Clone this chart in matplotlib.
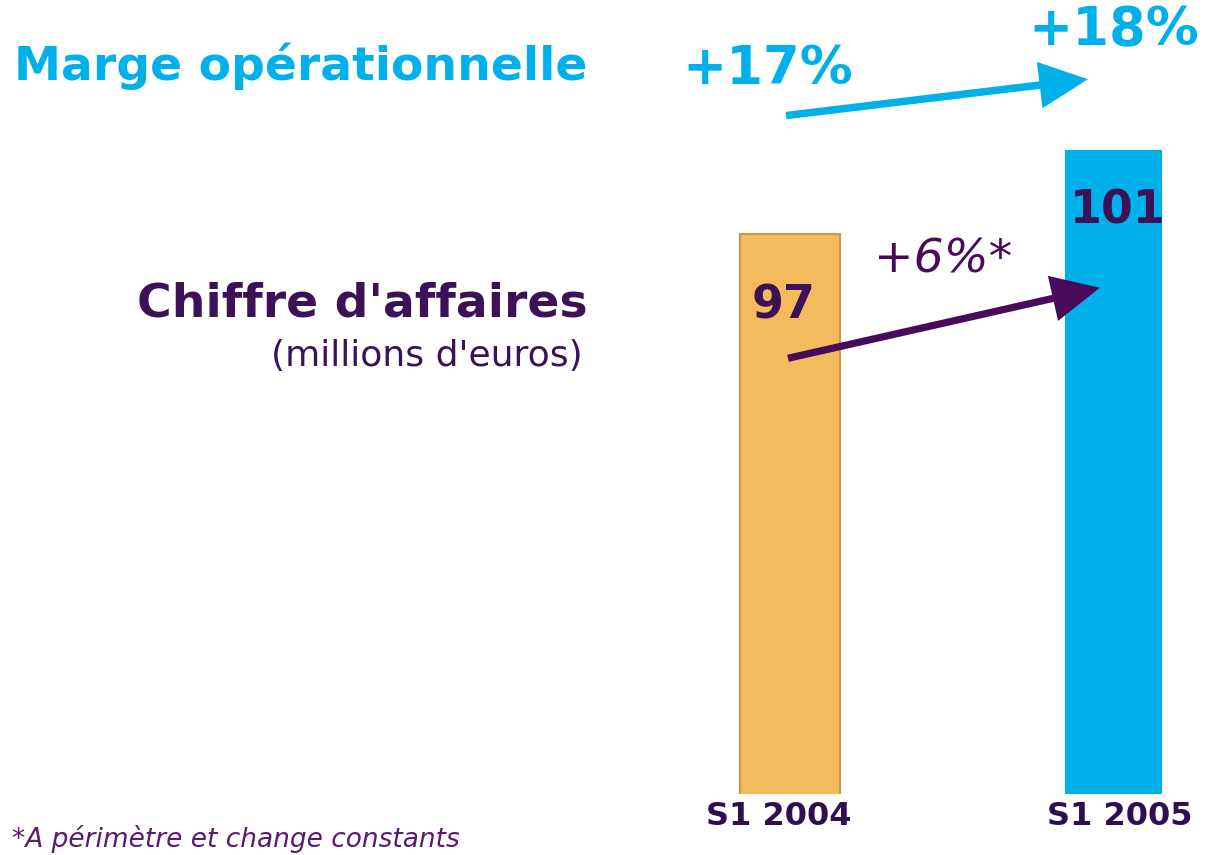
import matplotlib.pyplot as plt

# Données
periods = ["S1 2004", "S1 2005"]
revenue = [97, 101]
margin_labels = ["+17%", "+18%"]
growth_label = "+6%*"
bar_colors = ["#f4bb5c", "#00b0ea"]
bar_edges = ["#c9964a", "#00b0ea"]

cyan = "#00b0ea"
purple = "#3b1157"
arrow_purple = "#4a0a5c"

fig = plt.figure(figsize=(12.15, 8.55), dpi=100)
ax = fig.add_axes([0, 61 / 855, 1, 794 / 855])

x = [0, 1]
ax.bar(x, revenue, width=[0.31, 0.295], color=bar_colors, edgecolor=bar_edges, linewidth=1.5)
ax.set_xlim(-2.442, 1.314)
ax.set_ylim(70, 108.27)
ax.axis("off")

# valeurs sur les barres
ax.text(x[0] - 0.02, 93.5, str(revenue[0]), ha="center", va="center",
        fontsize=33, fontweight="bold", color=purple)
ax.text(x[1] + 0.013, 98.1, str(revenue[1]), ha="center", va="center",
        fontsize=33, fontweight="bold", color=purple)

head = "-|>,head_length=2.6,head_width=1.25"

# flèche chiffre d'affaires
ax.annotate("", xy=(0.958, 94.4), xytext=(-0.006, 91.0),
            arrowprops=dict(arrowstyle=head, color=arrow_purple, lw=5.2,
                            shrinkA=0, shrinkB=0, joinstyle="miter", capstyle="butt"))
ax.text(0.475, 95.75, growth_label, ha="center", va="center", fontsize=34,
        style="italic", color=arrow_purple)

# flèche marge
ax.annotate("", xy=(0.921, 104.45), xytext=(-0.012, 102.7),
            arrowprops=dict(arrowstyle=head, color=cyan, lw=5.4,
                            shrinkA=0, shrinkB=0, joinstyle="miter", capstyle="butt"))
ax.text(-0.07, 104.95, margin_labels[0], ha="center", va="center", fontsize=38,
        fontweight="bold", color=cyan)
ax.text(1.00, 106.8, margin_labels[1], ha="center", va="center", fontsize=38,
        fontweight="bold", color=cyan)

# étiquettes des périodes
label_x = [x[0] - 0.035, x[1] + 0.02]
for xi, lab in zip(label_x, periods):
    ax.text(xi, 68.9, lab, ha="center", va="center", fontsize=23,
            fontweight="bold", color="#2e1052")

# textes de gauche
fig.text(14 / 1215, 1 - 66 / 855, "Marge opérationnelle", ha="left", va="center",
         fontsize=34, fontweight="bold", color=cyan)
fig.text(588 / 1215, 1 - 304 / 855, "Chiffre d'affaires", ha="right", va="center",
         fontsize=34, fontweight="bold", color=purple)
fig.text(583 / 1215, 1 - 356 / 855, "(millions d'euros)", ha="right", va="center",
         fontsize=26, color=purple)
fig.text(12 / 1215, 1 - 839 / 855, "*A périmètre et change constants", ha="left",
         va="center", fontsize=19, style="italic", color="#5a1a6e")

fig.savefig("out.png", dpi=100)
